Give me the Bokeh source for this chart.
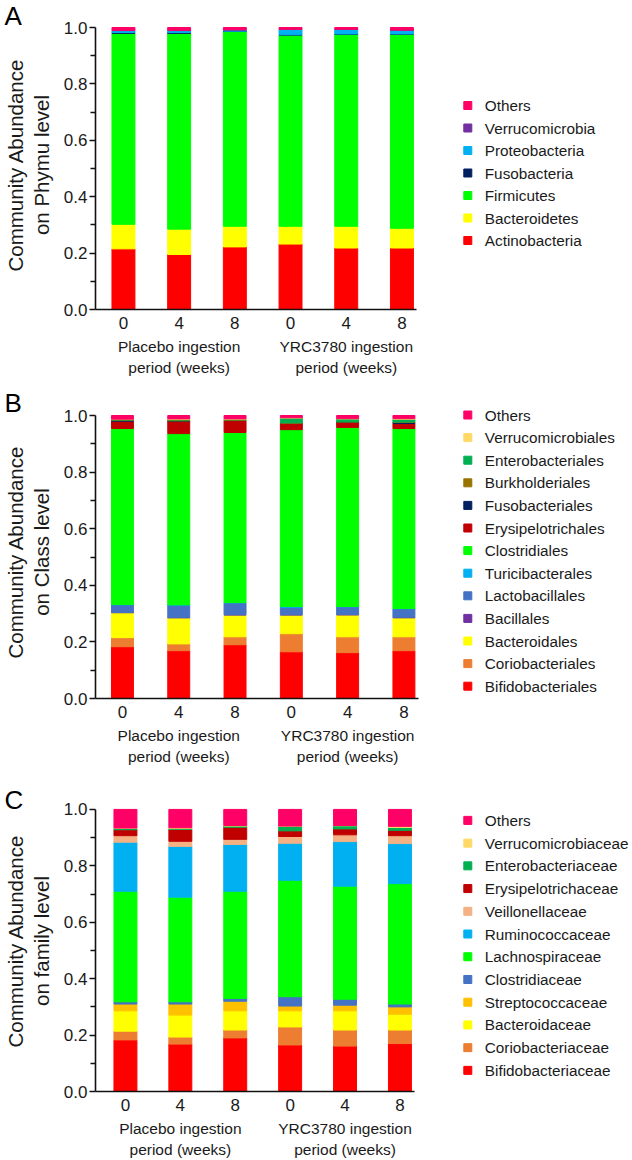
from bokeh.plotting import figure
from bokeh.layouts import column
from bokeh.models import (Range1d, FixedTicker, PrintfTickFormatter, ColumnDataSource,
                          LinearAxis)
from bokeh.core.properties import value
from bokeh.embed import file_html
from bokeh.resources import INLINE

FONT = "Liberation Sans"
TXT = "#1a1a1a"

# ---------------- shared categories / ticks ----------------
time_labels = ["0", "4", "8", "0", "4", "8"]
group_labels = ["Placebo ingestion", "YRC3780 ingestion"]
group_members = [[0, 1, 2], [3, 4, 5]]
group_sub = "period (weeks)"
y_ticks = [0.0, 0.2, 0.4, 0.6, 0.8, 1.0]
y_minor_ticks = [0.1, 0.3, 0.5, 0.7, 0.9]
ylabel_top = "Community Abundance"

# ---------------- Panel A: phylum ----------------
phylum_names = ["Actinobacteria", "Bacteroidetes", "Firmicutes", "Fusobacteria",
                "Proteobacteria", "Verrucomicrobia", "Others"]
phylum_colors = ["#FF0000", "#FFFF00", "#00FF00", "#002060", "#00B0F0", "#7030A0", "#FF0066"]
actinobacteria = [0.215, 0.195, 0.222, 0.232, 0.218, 0.218]
bacteroidetes = [0.087, 0.090, 0.073, 0.063, 0.077, 0.070]
firmicutes = [0.677, 0.694, 0.691, 0.678, 0.681, 0.688]
fusobacteria = [0.003, 0.003, 0.001, 0.001, 0.001, 0.001]
proteobacteria = [0.007, 0.007, 0.004, 0.019, 0.016, 0.013]
verrucomicrobia = [0.001, 0.001, 0.001, 0.001, 0.001, 0.001]
others_a = [0.010, 0.010, 0.008, 0.006, 0.006, 0.009]

# ---------------- Panel B: class/order ----------------
class_names = ["Bifidobacteriales", "Coriobacteriales", "Bacteroidales", "Bacillales",
               "Lactobacillales", "Turicibacterales", "Clostridiales", "Erysipelotrichales",
               "Fusobacteriales", "Burkholderiales", "Enterobacteriales",
               "Verrucomicrobiales", "Others"]
class_colors = ["#FF0000", "#ED7D31", "#FFFF00", "#7030A0", "#4472C4", "#00B0F0",
                "#00FF00", "#C00000", "#002060", "#997300", "#00B050", "#FFD966", "#FF0066"]
bifidobacteriales = [0.183, 0.169, 0.190, 0.165, 0.162, 0.169]
coriobacteriales = [0.032, 0.024, 0.028, 0.064, 0.056, 0.049]
bacteroidales = [0.088, 0.092, 0.077, 0.066, 0.077, 0.067]
bacillales = [0.001, 0.001, 0.001, 0.001, 0.002, 0.002]
lactobacillales = [0.027, 0.044, 0.042, 0.026, 0.027, 0.030]
turicibacterales = [0.001, 0.001, 0.001, 0.003, 0.001, 0.001]
clostridiales = [0.622, 0.605, 0.601, 0.625, 0.633, 0.636]
erysipelotrichales = [0.026, 0.044, 0.042, 0.022, 0.018, 0.018]
fusobacteriales = [0.003, 0.001, 0.001, 0.001, 0.001, 0.004]
burkholderiales = [0.001, 0.003, 0.002, 0.001, 0.001, 0.001]
enterobacteriales = [0.002, 0.002, 0.002, 0.017, 0.010, 0.010]
verrucomicrobiales = [0.001, 0.002, 0.001, 0.001, 0.001, 0.002]
others_b = [0.013, 0.012, 0.012, 0.008, 0.011, 0.011]

# ---------------- Panel C: family ----------------
family_names = ["Bifidobacteriaceae", "Coriobacteriaceae", "Bacteroidaceae", "Streptococcaceae",
                "Clostridiaceae", "Lachnospiraceae", "Ruminococcaceae", "Veillonellaceae",
                "Erysipelotrichaceae", "Enterobacteriaceae", "Verrucomicrobiaceae", "Others"]
family_colors = ["#FF0000", "#ED7D31", "#FFFF00", "#FFC000", "#4472C4", "#00FF00",
                 "#00B0F0", "#F4B183", "#C00000", "#00B050", "#FFD966", "#FF0066"]
bifidobacteriaceae = [0.183, 0.168, 0.190, 0.165, 0.161, 0.170]
coriobacteriaceae = [0.031, 0.025, 0.028, 0.064, 0.057, 0.048]
bacteroidaceae = [0.072, 0.078, 0.068, 0.057, 0.068, 0.056]
streptococcaceae = [0.024, 0.039, 0.034, 0.017, 0.020, 0.026]
clostridiaceae = [0.008, 0.008, 0.010, 0.033, 0.021, 0.010]
lachnospiraceae = [0.392, 0.371, 0.380, 0.413, 0.401, 0.427]
ruminococcaceae = [0.174, 0.180, 0.166, 0.131, 0.158, 0.142]
veillonellaceae = [0.023, 0.018, 0.018, 0.024, 0.024, 0.028]
erysipelotrichaceae = [0.021, 0.042, 0.043, 0.020, 0.021, 0.019]
enterobacteriaceae = [0.005, 0.003, 0.004, 0.016, 0.011, 0.010]
verrucomicrobiaceae = [0.001, 0.003, 0.002, 0.001, 0.001, 0.004]
others_c = [0.066, 0.065, 0.057, 0.059, 0.057, 0.060]

# ---------------- layout geometry (pixels, local to each panel figure) ----------------
W = 632
LEFT = 94          # frame left (y axis) for every panel
FRAME_TOP = 20     # frame top; the y axis itself only spans 0..1
GEOM = {
    "A": dict(h=385, y1=27, y0=309, c0=122, step=55.8, bw=23, axis_end=416,
              leg_top=105, leg_step=22.5, title_standoff=-20, ylab_shift=5),
    "B": dict(h=385, y1=30, y0=313, c0=121, step=56.4, bw=22, axis_end=418,
              leg_top=29.5, leg_step=22.6, title_standoff=-25, ylab_shift=-1),
    "C": dict(h=390, y1=39, y0=322, c0=124, step=55.0, bw=23, axis_end=414,
              leg_top=50, leg_step=22.8, title_standoff=-49, ylab_shift=-4),
}
LEG_MARK_X = 467
LEG_TEXT_X = 484


def style_text_axis(ax, size, standoff):
    ax.axis_line_color = None
    ax.major_tick_out = 0
    ax.major_tick_in = 0
    ax.minor_tick_out = 0
    ax.minor_tick_in = 0
    ax.major_label_standoff = standoff
    ax.major_label_text_font = FONT
    ax.major_label_text_font_size = size
    ax.major_label_text_color = TXT


def label_axis(p, text, standoff, center):
    ax = LinearAxis(ticker=FixedTicker(ticks=[]), bounds=(center - 0.5, center + 0.5))
    ax.axis_line_color = None
    ax.major_tick_out = 0
    ax.minor_tick_out = 0
    ax.major_label_text_font_size = "0px"
    ax.axis_label = text
    ax.axis_label_standoff = standoff
    ax.axis_label_text_font = FONT
    ax.axis_label_text_font_size = "20.5px"
    ax.axis_label_text_font_style = "normal"
    ax.axis_label_text_color = TXT
    p.add_layout(ax, "left")


def panel(letter, ylab2, names, colors, series, g):
    step = g["step"]
    px_per_unit = g["y0"] - g["y1"]
    x0 = -(g["c0"] - LEFT) / step
    x1 = x0 + (W - LEFT) / step
    y_hi = 1 + (g["y1"] - FRAME_TOP) / px_per_unit
    p = figure(width=W, height=g["h"], x_range=Range1d(x0, x1), y_range=Range1d(0, y_hi),
               output_backend="svg", toolbar_location=None, title=letter,
               min_border_left=LEFT, min_border_right=0,
               min_border_top=FRAME_TOP, min_border_bottom=g["h"] - g["y0"])
    p.outline_line_color = None
    p.xgrid.visible = False
    p.ygrid.visible = False
    p.background_fill_color = "white"
    p.border_fill_color = "white"

    # panel letter
    p.title.align = "left"
    p.title.offset = -(LEFT - 3)
    p.title.standoff = g["title_standoff"]
    p.title.text_font = FONT
    p.title.text_font_size = "26px"
    p.title.text_font_style = "normal"
    p.title.text_color = "#000000"

    # stacked bars
    data = {"x": list(range(len(time_labels)))}
    for n, s in zip(names, series):
        data[n] = s
    src = ColumnDataSource(data)
    p.vbar_stack(names, x="x", width=g["bw"] / step, color=colors, source=src)

    # y axis
    yax = p.yaxis[0]
    yax.bounds = (0, 1)
    yax.ticker = FixedTicker(ticks=y_ticks, minor_ticks=y_minor_ticks)
    yax.formatter = PrintfTickFormatter(format="%.1f")
    yax.axis_line_width = 1.6
    yax.axis_line_color = "#111111"
    yax.major_tick_line_width = 1.6
    yax.minor_tick_line_width = 1.6
    yax.major_tick_line_color = "#111111"
    yax.minor_tick_line_color = "#111111"
    yax.major_tick_out = 6
    yax.major_tick_in = 0
    yax.minor_tick_out = 5
    yax.minor_tick_in = 0
    yax.major_label_standoff = 2
    yax.major_label_text_font = FONT
    yax.major_label_text_font_size = "17px"
    yax.major_label_text_color = TXT

    # y title: two lines, each on its own label-only axis
    yc = 0.5 + g["ylab_shift"] / px_per_unit
    label_axis(p, ylab2, 8, yc)
    label_axis(p, ylabel_top, 0, yc)

    # x axis
    xax = p.xaxis[0]
    xax.bounds = (x0, x0 + (g["axis_end"] - LEFT) / step)
    xax.ticker = FixedTicker(ticks=list(range(len(time_labels))))
    xax.major_label_overrides = {i: t for i, t in enumerate(time_labels)}
    style_text_axis(xax, "17px", 7)
    xax.axis_line_color = "#111111"
    xax.axis_line_width = 1.6

    # group labels: two extra axes stacked below the main one
    centers = [sum(m) / len(m) for m in group_members]
    ax2 = LinearAxis(ticker=FixedTicker(ticks=centers),
                     major_label_overrides={c: t for c, t in zip(centers, group_labels)})
    style_text_axis(ax2, "15.5px", 6)
    p.add_layout(ax2, "below")
    ax3 = LinearAxis(ticker=FixedTicker(ticks=centers),
                     major_label_overrides={c: group_sub for c in centers})
    style_text_axis(ax3, "15.5px", 1)
    p.add_layout(ax3, "below")

    # legend (top item = last stacked series)
    labels = names[::-1]
    cols = colors[::-1]
    n = len(labels)
    ys = [(g["y0"] - (g["leg_top"] + i * g["leg_step"])) / px_per_unit for i in range(n)]
    xm = x0 + (LEG_MARK_X - LEFT) / step
    xt = x0 + (LEG_TEXT_X - LEFT) / step
    p.scatter(x=[xm] * n, y=ys, marker="square", size=8, color=cols)
    p.text(x=[xt] * n, y=ys, text=labels, text_baseline="middle", text_align="left",
           text_font=value(FONT), text_font_size="15.3px", text_color=TXT)
    return p


pa = panel("A", "on Phymu level", phylum_names, phylum_colors,
           [actinobacteria, bacteroidetes, firmicutes, fusobacteria, proteobacteria,
            verrucomicrobia, others_a], GEOM["A"])
pb = panel("B", "on Class level", class_names, class_colors,
           [bifidobacteriales, coriobacteriales, bacteroidales, bacillales, lactobacillales,
            turicibacterales, clostridiales, erysipelotrichales, fusobacteriales,
            burkholderiales, enterobacteriales, verrucomicrobiales, others_b], GEOM["B"])
pc = panel("C", "on family level", family_names, family_colors,
           [bifidobacteriaceae, coriobacteriaceae, bacteroidaceae, streptococcaceae,
            clostridiaceae, lachnospiraceae, ruminococcaceae, veillonellaceae,
            erysipelotrichaceae, enterobacteriaceae, verrucomicrobiaceae, others_c], GEOM["C"])

layout = column(pa, pb, pc)

with open("out.html", "w") as f:
    f.write(file_html(layout, INLINE))
